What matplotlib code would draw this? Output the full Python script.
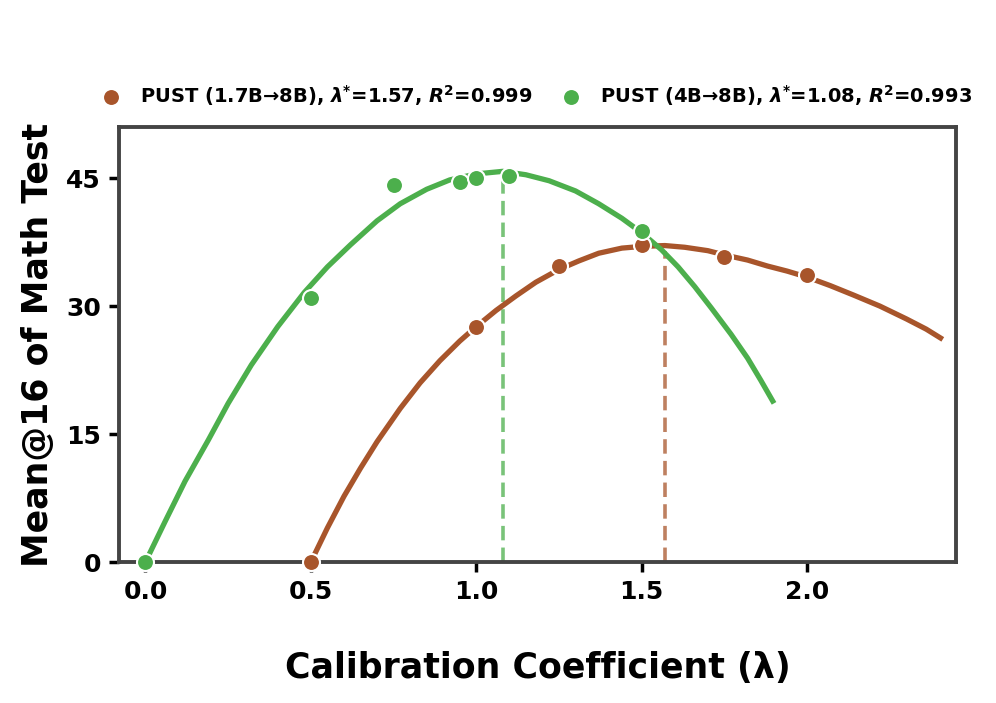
import numpy as np
import matplotlib
matplotlib.use("Agg")
import matplotlib.pyplot as plt

# measured points
brown_x = [0.5, 1.0, 1.25, 1.5, 1.75, 2.0]
brown_y = [0.0, 27.5, 34.7, 37.2, 35.8, 33.6]
green_x = [0.0, 0.5, 0.75, 0.95, 1.0, 1.1, 1.5]
green_y = [0.0, 31.0, 44.2, 44.6, 45.0, 45.2, 38.8]

# fitted curves
brown_fit_x = [0.50, 0.55, 0.60, 0.65, 0.70, 0.77, 0.83, 0.89, 0.95, 1.00, 1.06, 1.12, 1.18, 1.25,
               1.31, 1.37, 1.44, 1.50, 1.57, 1.63, 1.70, 1.75, 1.82, 1.88, 1.94, 2.00, 2.07, 2.14,
               2.22, 2.30, 2.36, 2.41]
brown_fit_y = [0.0, 4.0, 7.7, 11.0, 14.1, 18.0, 21.0, 23.6, 25.9, 27.6, 29.5, 31.2, 32.8, 34.3,
               35.3, 36.2, 36.8, 37.0, 37.1, 36.9, 36.5, 36.0, 35.4, 34.7, 34.1, 33.4, 32.4, 31.3,
               30.0, 28.5, 27.3, 26.1]
green_fit_x = [0.00, 0.06, 0.12, 0.19, 0.25, 0.32, 0.40, 0.48, 0.55, 0.62, 0.70, 0.77, 0.85, 0.92,
               1.00, 1.08, 1.15, 1.22, 1.30, 1.37, 1.44, 1.50, 1.56, 1.61, 1.66, 1.71, 1.77, 1.82,
               1.86, 1.90]
green_fit_y = [0.0, 4.8, 9.5, 14.3, 18.6, 23.1, 27.6, 31.6, 34.6, 37.2, 40.0, 42.0, 43.7, 44.8,
               45.5, 45.8, 45.4, 44.7, 43.5, 42.0, 40.3, 38.6, 36.6, 34.6, 32.3, 29.8, 26.7, 23.9,
               21.3, 18.6]

brown_opt, brown_peak = 1.57, 37.1
green_opt, green_peak = 1.08, 45.8

labels = [r"PUST (1.7B→8B), $\mathbfit{\lambda}^{\mathbf{*}}$=1.57, $\mathbfit{R}^{\mathbf{2}}$=0.999",
          r"PUST (4B→8B), $\mathbfit{\lambda}^{\mathbf{*}}$=1.08, $\mathbfit{R}^{\mathbf{2}}$=0.993"]

BROWN = "#A8552B"
GREEN = "#4CAF4C"

plt.rcParams["font.family"] = ["DejaVu Sans"]
plt.rcParams["font.weight"] = "bold"

fig = plt.figure(figsize=(9.96, 7.03), dpi=100)
ax = fig.add_axes([119 / 996, 1 - 562 / 703, (956 - 119) / 996, (562 - 127) / 703])

ax.plot(brown_fit_x, brown_fit_y, color=BROWN, lw=3.8, zorder=2, solid_capstyle="butt")
ax.plot(green_fit_x, green_fit_y, color=GREEN, lw=3.8, zorder=2, solid_capstyle="butt")

ax.vlines(brown_opt, 0, brown_peak - 0.6, colors=BROWN, linestyles=(0, (4, 2)), lw=2.6, alpha=0.75, zorder=1)
ax.vlines(green_opt, 0, green_peak - 0.6, colors=GREEN, linestyles=(0, (4, 2)), lw=2.6, alpha=0.75, zorder=1)

ax.scatter(brown_x, brown_y, s=150, color=BROWN, edgecolors="white", linewidths=1.5, zorder=3,
           label=labels[0], clip_on=False)
ax.scatter(green_x, green_y, s=150, color=GREEN, edgecolors="white", linewidths=1.5, zorder=3,
           label=labels[1], clip_on=False)

ax.set_xlim(-0.08, 2.45)
ax.set_ylim(0, 51)
ax.set_xticks([0.0, 0.5, 1.0, 1.5, 2.0])
ax.set_xticklabels(["0.0", "0.5", "1.0", "1.5", "2.0"])
ax.set_yticks([0, 15, 30, 45])

for s in ax.spines.values():
    s.set_color("#444444")
    s.set_linewidth(2.8)

ax.tick_params(axis="both", length=7, width=2.5, color="black", labelsize=18, pad=6)
for t in ax.get_xticklabels() + ax.get_yticklabels():
    t.set_fontweight("bold")

ax.set_xlabel("Calibration Coefficient (λ)", fontsize=25, fontweight="bold", labelpad=34)
ax.set_ylabel("Mean@16 of Math Test", fontsize=25, fontweight="bold", labelpad=8)

ax.legend(loc="lower center", bbox_to_anchor=(0.493, 1.0), ncol=2, frameon=False,
          fontsize=14, handletextpad=0.5, columnspacing=1.0, borderaxespad=0.6)

fig.savefig("out.png", dpi=100)
